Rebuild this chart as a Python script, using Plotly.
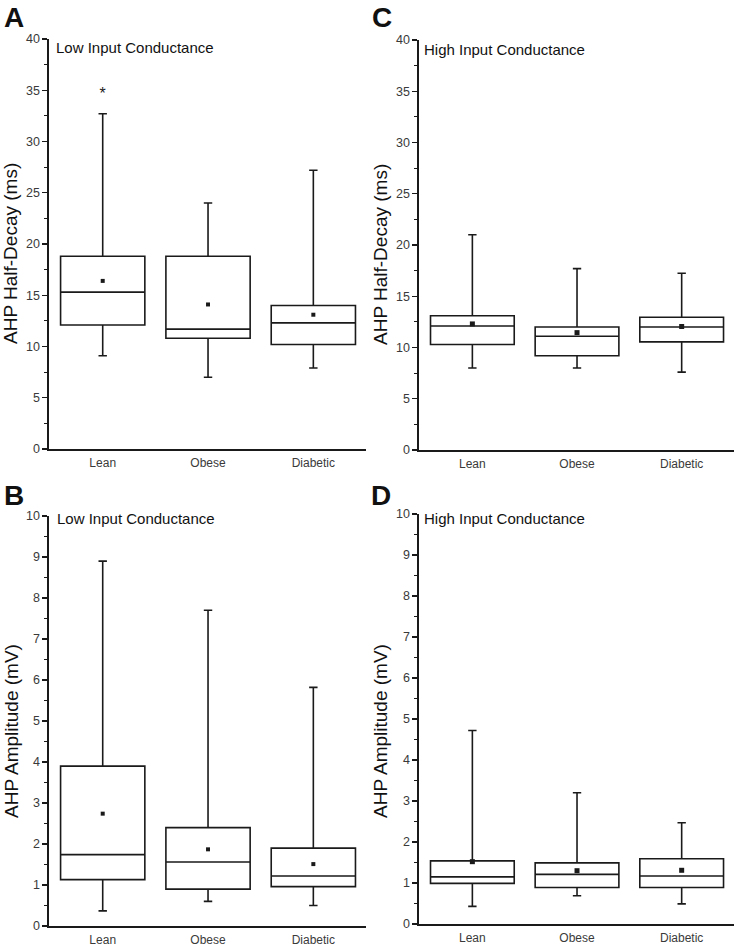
import plotly.graph_objects as go

categories = ["Lean", "Obese", "Diabetic"]

# Panel A: AHP Half-Decay, Low Input Conductance
a_lower = [9.1, 7.0, 7.9]
a_q1 = [12.1, 10.8, 10.2]
a_median = [15.3, 11.7, 12.3]
a_q3 = [18.8, 18.8, 14.0]
a_upper = [32.7, 24.0, 27.2]
a_mean = [16.4, 14.1, 13.1]
a_outlier_cat = ["Lean"]
a_outlier_val = [34.5]

# Panel C: AHP Half-Decay, High Input Conductance
c_lower = [8.0, 8.0, 7.6]
c_q1 = [10.3, 9.2, 10.55]
c_median = [12.1, 11.1, 12.0]
c_q3 = [13.1, 12.0, 12.95]
c_upper = [21.0, 17.7, 17.25]
c_mean = [12.3, 11.45, 12.05]

# Panel B: AHP Amplitude, Low Input Conductance
b_lower = [0.37, 0.6, 0.5]
b_q1 = [1.13, 0.9, 0.96]
b_median = [1.74, 1.56, 1.22]
b_q3 = [3.9, 2.4, 1.9]
b_upper = [8.9, 7.7, 5.82]
b_mean = [2.74, 1.87, 1.51]

# Panel D: AHP Amplitude, High Input Conductance
d_lower = [0.43, 0.69, 0.49]
d_q1 = [0.99, 0.89, 0.89]
d_median = [1.15, 1.21, 1.17]
d_q3 = [1.54, 1.49, 1.59]
d_upper = [4.72, 3.2, 2.47]
d_mean = [1.52, 1.30, 1.31]

LINE = "#1a1a1a"
TICKC = "#3a3a3a"
FONT = "Liberation Sans, Arial, sans-serif"

fig = go.Figure()

panels = [
    (a_lower, a_q1, a_median, a_q3, a_upper, a_mean, "x", "y", 4),
    (c_lower, c_q1, c_median, c_q3, c_upper, c_mean, "x2", "y2", 5),
    (b_lower, b_q1, b_median, b_q3, b_upper, b_mean, "x3", "y3", 4),
    (d_lower, d_q1, d_median, d_q3, d_upper, d_mean, "x4", "y4", 5),
]

for lo, q1, md, q3, up, mn, xa, ya, ms in panels:
    fig.add_trace(go.Box(
        x=categories, q1=q1, median=md, q3=q3, lowerfence=lo, upperfence=up,
        xaxis=xa, yaxis=ya, width=0.8, whiskerwidth=0.1,
        fillcolor="white", line=dict(color=LINE, width=1.6),
        boxpoints=False, showlegend=False, hoverinfo="skip",
    ))
    fig.add_trace(go.Scatter(
        x=categories, y=mn, xaxis=xa, yaxis=ya, mode="markers",
        marker=dict(symbol="square", size=ms, color=LINE),
        showlegend=False, hoverinfo="skip",
    ))

fig.add_trace(go.Scatter(
    x=a_outlier_cat, y=a_outlier_val, xaxis="x", yaxis="y", mode="text",
    text=["*"], textfont=dict(size=16, color=LINE, family=FONT),
    textposition="middle center", showlegend=False, hoverinfo="skip",
))

W, H = 735, 946
def px_x(v):
    return v / W
def px_y(v):
    return 1 - v / H

xdoms = {"x": [px_x(49), px_x(366)], "x2": [px_x(419), px_x(734)],
         "x3": [px_x(49), px_x(366)], "x4": [px_x(419), px_x(734)]}
ydoms = {"y": [px_y(449), px_y(39)], "y2": [px_y(450), px_y(40)],
         "y3": [px_y(926), px_y(516)], "y4": [px_y(924), px_y(514)]}

layout = dict(
    width=W, height=H, margin=dict(l=0, r=0, t=0, b=0, autoexpand=False),
    paper_bgcolor="white", plot_bgcolor="white",
    font=dict(family=FONT, color=TICKC),
)

for xa, ya in [("x", "y"), ("x2", "y2"), ("x3", "y3"), ("x4", "y4")]:
    xname = "xaxis" if xa == "x" else "xaxis" + xa[1:]
    yname = "yaxis" if ya == "y" else "yaxis" + ya[1:]
    layout[xname] = dict(
        domain=xdoms[xa], anchor=ya, range=[-0.51, 2.5], type="category",
        showline=True, linecolor=LINE, linewidth=1.6, ticks="",
        showgrid=False, zeroline=False, automargin=False,
        tickfont=dict(size=12, color=TICKC), ticklabelstandoff=2,
    )
    if ya in ("y", "y2"):
        yr, dt, mdt = [0, 40], 5, 2.5
    else:
        yr, dt, mdt = [0, 10], 1, 0.5
    layout[yname] = dict(
        domain=ydoms[ya], anchor=xa, range=yr, dtick=dt, tick0=0,
        showline=True, linecolor=LINE, linewidth=1.6,
        ticks="outside", ticklen=5, tickwidth=1.3, tickcolor=LINE,
        minor=dict(ticks="outside", ticklen=3, tickwidth=1.1, tickcolor=LINE, dtick=mdt),
        showgrid=False, zeroline=False, automargin=False,
        tickfont=dict(size=12.5, color=TICKC),
    )

fig.update_layout(**layout)

annos = []
for txt, x, y in [("A", 2, 0), ("C", 370, 0), ("B", 2, 478), ("D", 369, 478)]:
    annos.append(dict(text="<b>%s</b>" % txt, x=px_x(x), y=px_y(y), xref="paper", yref="paper",
                      xanchor="left", yanchor="top", showarrow=False,
                      font=dict(size=28, color="#111", family=FONT)))
for txt, x, y in [("Low Input Conductance", 54, 47.5), ("High Input Conductance", 422, 49.5),
                  ("Low Input Conductance", 55, 518), ("High Input Conductance", 422, 518)]:
    annos.append(dict(text=txt, x=px_x(x), y=px_y(y), xref="paper", yref="paper",
                      xanchor="left", yanchor="middle", showarrow=False,
                      font=dict(size=15, color="#111", family=FONT)))
for txt, x, y in [("AHP Half-Decay (ms)", 11, 254), ("AHP Half-Decay (ms)", 380, 255),
                  ("AHP Amplitude (mV)", 11, 731), ("AHP Amplitude (mV)", 380, 731)]:
    annos.append(dict(text=txt, x=px_x(x), y=px_y(y), xref="paper", yref="paper",
                      xanchor="center", yanchor="middle", showarrow=False, textangle=-90,
                      font=dict(size=19, color="#111", family=FONT)))
fig.update_layout(annotations=annos)

fig.write_html(
    "out.html",
    config={"displayModeBar": False, "staticPlot": True},
    post_script="document.body.style.margin='0';document.body.style.padding='0';document.body.style.overflow='hidden';",
)
